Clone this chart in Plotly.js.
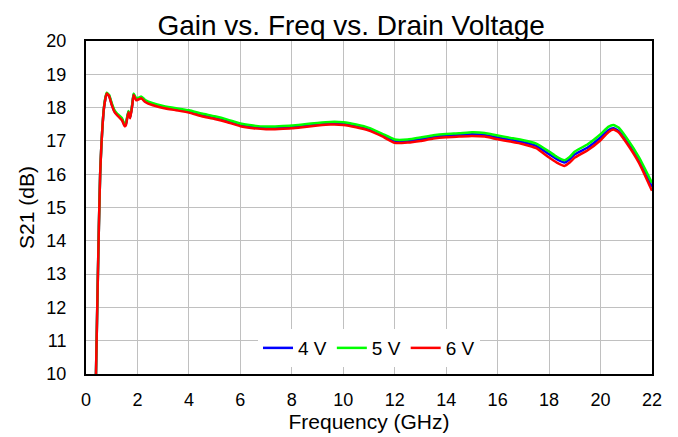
<!DOCTYPE html>
<html>
<head>
<meta charset="utf-8">
<script src="https://cdn.plot.ly/plotly-3.0.1.min.js"></script>
<style>html,body{margin:0;padding:0;background:#fff;}#chart{width:678px;height:437px;}</style>
</head>
<body>
<div id="chart"></div>
<script>
const freq = [0.38,0.45,0.5,0.55,0.6,0.7,0.8,0.9,1.0,1.1,1.2,1.3,1.4,1.5,1.55,1.65,1.72,1.8,1.85,1.95,2.05,2.15,2.3,2.6,3.0,3.5,4.0,4.5,5.0,5.5,6.0,6.5,7.0,7.5,8.0,8.5,9.0,9.5,10.0,10.5,11.0,11.5,12.0,12.5,13.0,13.5,14.0,14.5,15.0,15.5,16.0,16.5,17.0,17.5,18.0,18.3,18.6,18.8,19.0,19.5,20.0,20.3,20.5,20.7,21.0,21.5,22.0];
const v4 = [9.7,12.5,14.4,16.0,16.9,18.0,18.42,18.35,18.1,17.9,17.8,17.73,17.65,17.47,17.5,17.88,17.7,18.1,18.4,18.25,18.28,18.3,18.2,18.1,18.02,17.95,17.88,17.78,17.7,17.6,17.48,17.42,17.39,17.4,17.42,17.46,17.5,17.53,17.52,17.45,17.35,17.18,17.0,17.0,17.05,17.12,17.16,17.18,17.2,17.18,17.1,17.03,16.96,16.85,16.6,16.45,16.35,16.45,16.6,16.8,17.1,17.32,17.38,17.3,17.0,16.4,15.62];
const v5 = [9.7,12.5,14.4,16.0,16.9,18.02,18.45,18.38,18.13,17.93,17.83,17.76,17.68,17.5,17.53,17.9,17.73,18.12,18.42,18.28,18.3,18.33,18.23,18.13,18.05,17.98,17.92,17.82,17.74,17.64,17.52,17.46,17.43,17.44,17.46,17.5,17.54,17.57,17.56,17.49,17.39,17.22,17.04,17.04,17.1,17.17,17.21,17.23,17.26,17.24,17.16,17.09,17.02,16.92,16.68,16.52,16.42,16.52,16.68,16.9,17.2,17.42,17.48,17.4,17.1,16.5,15.74];
const v6 = [9.7,12.5,14.4,16.0,16.9,18.0,18.42,18.34,18.08,17.88,17.78,17.7,17.62,17.44,17.47,17.86,17.68,18.08,18.38,18.22,18.25,18.28,18.17,18.07,17.99,17.92,17.85,17.74,17.66,17.56,17.44,17.38,17.35,17.36,17.38,17.42,17.46,17.49,17.48,17.41,17.31,17.14,16.94,16.95,17.0,17.07,17.11,17.13,17.15,17.13,17.05,16.98,16.9,16.78,16.5,16.35,16.25,16.35,16.5,16.72,17.02,17.26,17.34,17.26,16.95,16.33,15.5];
const seriesNames = ['4 V','5 V','6 V'];
const seriesColors = ['#0000ff','#00ff00','#ff0000'];
const xTicks = [0,2,4,6,8,10,12,14,16,18,20,22];
const yTicks = [10,11,12,13,14,15,16,17,18,19,20];

const data = [v4, v5, v6].map((ys, i) => ({
  x: freq, y: ys, type: 'scatter', mode: 'lines', name: seriesNames[i],
  line: {color: seriesColors[i], width: 2.5, shape: 'spline', smoothing: 0.4}
}));

const font = {family: 'Liberation Sans, Arial, sans-serif', color: '#000'};
const layout = {
  width: 678, height: 437,
  margin: {l: 86, r: 26, t: 41, b: 63},
  paper_bgcolor: '#fff', plot_bgcolor: '#fff',
  font: Object.assign({size: 18}, font),
  title: {text: 'Gain vs. Freq vs. Drain Voltage', font: Object.assign({size: 28}, font),
    x: 0.518, xanchor: 'center', xref: 'container', y: 0.943, yanchor: 'middle', yref: 'container'},
  xaxis: {
    range: [0, 22], tickvals: xTicks, ticktext: xTicks.map(String),
    showgrid: true, gridcolor: '#c0c0c0', gridwidth: 1,
    showline: true, linecolor: '#000', linewidth: 2, mirror: true,
    ticks: 'outside', ticklen: 8, tickcolor: 'rgba(0,0,0,0)',
    zeroline: false, tickfont: Object.assign({size: 18}, font),
    title: {text: 'Frequency (GHz)', font: Object.assign({size: 21}, font), standoff: 4}
  },
  yaxis: {
    range: [10, 20], tickvals: yTicks, ticktext: yTicks.map(String),
    showgrid: true, gridcolor: '#c0c0c0', gridwidth: 1,
    showline: true, linecolor: '#000', linewidth: 2, mirror: true,
    ticks: 'outside', ticklen: 14, tickcolor: 'rgba(0,0,0,0)',
    zeroline: false, tickfont: Object.assign({size: 18}, font),
    title: {text: 'S21 (dB)', font: Object.assign({size: 21}, font), standoff: 6}
  },
  showlegend: true,
  legend: {orientation: 'h', x: 0.5, xanchor: 'center', y: 0.078, yanchor: 'middle',
    bgcolor: '#fff', borderwidth: 0, font: Object.assign({size: 19}, font), itemwidth: 30},
};
Plotly.newPlot('chart', data, layout, {displayModeBar: false, staticPlot: true});
</script>
</body>
</html>
